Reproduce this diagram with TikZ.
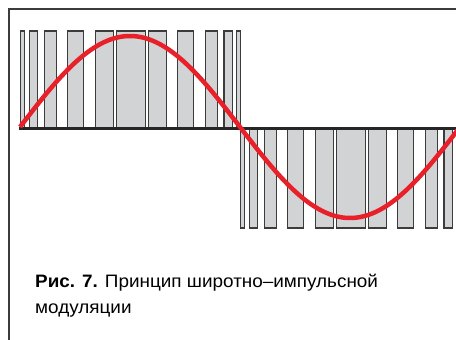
\documentclass[tikz,border=0pt]{standalone}
\usepackage{fontspec}
\setmainfont[FakeStretch=1.05]{Liberation Sans}
\usetikzlibrary{positioning}

\definecolor{pwmred}{HTML}{E8202A}
\definecolor{barfill}{HTML}{D2D3D5}
\definecolor{barline}{HTML}{3C3C3C}

\begin{document}
\begin{tikzpicture}[x=1pt, y=-1pt,
    pulse/.style={draw=barline, fill=barfill, line width=1.1pt},
    frameline/.style={draw=barline, line width=1.2pt},
    caption/.style={anchor=base west, inner sep=0pt, font=\fontsize{18}{20}\selectfont}]
    \useasboundingbox (0,0) rectangle (456,340);
    \clip (0,0) rectangle (456,340);

    % Frame
    \draw[frameline] (456,9) -- (9,9) -- (9,340);

    % Positive pulses
    \foreach \a/\b in {20.3/24.3, 29.3/37.3, 44.3/56.7, 67.7/83.3, 95.3/113.3, 116.7/145.3,
                       148.7/166.3, 177.7/193.3, 205.3/217.3, 224/232.3, 236.5/240.5} {
        \draw[pulse] (\a,31) rectangle (\b,128.5);
    }

    % Negative pulses
    \foreach \a/\b in {20.3/24.3, 29.3/37.3, 44.3/56.7, 67.7/83.3, 95.3/113.3, 116.7/145.3,
                       148.7/166.3, 177.7/193.3, 205.3/217.3, 224/232.3, 236.5/240.5} {
        \draw[pulse] (\a+220,128.5) rectangle (\b+220,228);
    }

    % Zero line
    \draw[line width=2.6pt, draw=black!85] (19,128.5) -- (456,128.5);

    % Modulating sine
    \draw[pwmred, line width=4.5pt, domain=20:460, samples=150, smooth]
        plot (\x, {127-91*sin((\x-20)/220*180)});

    % Caption
    \node[caption] (cap1) at (35,287) {\textbf{Рис. 7.} Принцип широтно–импульсной};
    \node[caption] (cap2) at (35,313) {модуляции};
\end{tikzpicture}
\end{document}
